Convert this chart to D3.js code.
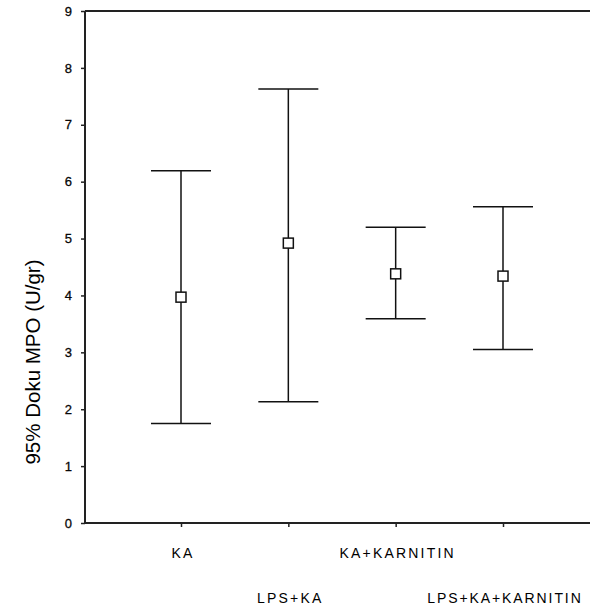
<!DOCTYPE html>
<html>
<head>
<meta charset="utf-8">
<script src="https://cdn.jsdelivr.net/npm/d3@7"></script>
<style>
  html, body { margin: 0; padding: 0; background: #fff; }
  svg { display: block; }
  text { font-family: "Liberation Sans", Arial, sans-serif; fill: #000; }
</style>
</head>
<body>
<svg id="chart" width="590" height="614"></svg>
<script>
// Groups and their 95% confidence intervals for tissue MPO (U/gr)
const groups = ["KA", "LPS+KA", "KA+KARNITIN", "LPS+KA+KARNITIN"];
const means = [3.97, 4.92, 4.38, 4.34];
const lower = [1.75, 2.13, 3.59, 3.05];
const upper = [6.19, 7.63, 5.20, 5.56];
const yTicks = [0, 1, 2, 3, 4, 5, 6, 7, 8, 9];

const svg = d3.select("#chart");
const x0 = 85, x1 = 590, yTop = 11, yBottom = 523;

const y = d3.scaleLinear().domain([0, 9]).range([yBottom, yTop]);
const x = d3.scalePoint().domain(groups).range([181, 503]);

// Y axis with ticks to the left
const yAxis = svg.append("g")
  .attr("transform", `translate(${x0},0)`)
  .call(d3.axisLeft(y).tickValues(yTicks).tickSize(4).tickPadding(9).tickFormat(d3.format("d")));
yAxis.select(".domain").attr("stroke", "#222").attr("stroke-width", 2).attr("d", `M0,${yTop}V${yBottom}`);
yAxis.selectAll(".tick line").attr("stroke", "#222").attr("stroke-width", 1.5);
yAxis.selectAll(".tick text")
  .attr("font-size", 13)
  .attr("font-family", "Liberation Sans, Arial, sans-serif")
  .attr("fill", "#111")
  .attr("stroke", "#111").attr("stroke-width", 0.3);

// Top border line
svg.append("line")
  .attr("x1", x0).attr("x2", x1).attr("y1", yTop).attr("y2", yTop)
  .attr("stroke", "#222").attr("stroke-width", 2);

// X axis with ticks below
const xAxis = svg.append("g")
  .attr("transform", `translate(0,${yBottom})`)
  .call(d3.axisBottom(x).tickSize(4).tickFormat(""));
xAxis.select(".domain").attr("stroke", "#222").attr("stroke-width", 2).attr("d", `M${x0},0H${x1}`);
xAxis.selectAll(".tick line").attr("stroke", "#222").attr("stroke-width", 1.5);

// Staggered category labels
svg.append("g").selectAll("text")
  .data(groups)
  .join("text")
  .attr("x", (d, i) => x(d) + (i === 3 ? 2 : 2))
  .attr("y", (d, i) => i % 2 === 0 ? 558 : 603)
  .attr("text-anchor", "middle")
  .attr("font-family", "DejaVu Sans, sans-serif")
  .attr("font-size", 14)
  .attr("letter-spacing", (d, i) => i === 3 ? 1.9 : 2.2)
  .attr("fill", "#111")
  .text(d => d);

// Error bars
const capHalf = 30;
const bars = svg.append("g").selectAll("g")
  .data(groups)
  .join("g");

bars.append("line")
  .attr("x1", d => x(d)).attr("x2", d => x(d))
  .attr("y1", (d, i) => y(upper[i])).attr("y2", (d, i) => y(lower[i]))
  .attr("stroke", "#111").attr("stroke-width", 1.5);
bars.append("line")
  .attr("x1", d => x(d) - capHalf).attr("x2", d => x(d) + capHalf)
  .attr("y1", (d, i) => y(upper[i])).attr("y2", (d, i) => y(upper[i]))
  .attr("stroke", "#111").attr("stroke-width", 1.5);
bars.append("line")
  .attr("x1", d => x(d) - capHalf).attr("x2", d => x(d) + capHalf)
  .attr("y1", (d, i) => y(lower[i])).attr("y2", (d, i) => y(lower[i]))
  .attr("stroke", "#111").attr("stroke-width", 1.5);
bars.append("rect")
  .attr("x", d => x(d) - 5).attr("y", (d, i) => y(means[i]) - 5)
  .attr("width", 10).attr("height", 10)
  .attr("fill", "#fff").attr("stroke", "#111").attr("stroke-width", 1.5);

// Y axis title
svg.append("text")
  .attr("transform", "translate(40,362) rotate(-90)")
  .attr("text-anchor", "middle")
  .attr("font-size", 20.5)
  .attr("fill", "#333")
  .text("95% Doku MPO (U/gr)");
</script>
</body>
</html>
